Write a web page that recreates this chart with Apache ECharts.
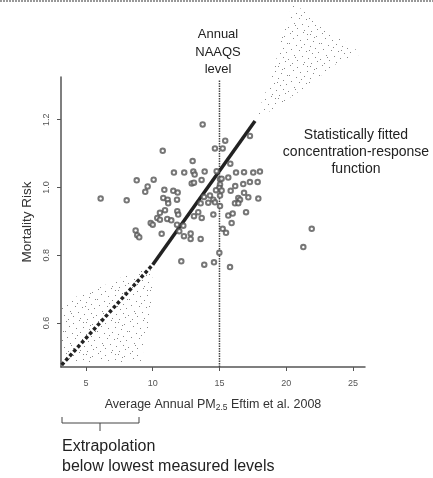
<!DOCTYPE html>
<html>
<head>
<meta charset="utf-8">
<script src="https://cdn.jsdelivr.net/npm/echarts@6/dist/echarts.min.js"></script>
<style>
html,body{margin:0;padding:0;background:#fff;}
#chart{width:433px;height:478px;}
</style>
</head>
<body>
<div id="chart"></div>
<script>
// ---- data ----
const pmX = [10.75,11.59,8.80,10.07,9.62,9.44,10.87,11.54,11.87,6.10,8.05,10.79,11.12,11.16,11.82,10.54,10.92,10.34,10.54,11.09,11.39,11.84,11.91,9.85,10.00,8.72,8.84,8.99,10.67,11.82,
  13.74,15.43,14.66,15.24,12.99,15.81,12.36,13.04,13.14,13.89,14.79,16.24,16.84,17.53,18.03,15.04,15.16,15.66,13.66,12.92,13.09,15.04,14.99,16.18,16.78,17.28,17.86,14.74,15.84,13.84,
  14.29,15.04,16.41,17.16,17.91,16.84,16.54,13.59,14.16,14.54,14.66,15.04,16.16,16.41,13.09,13.41,13.67,14.54,15.66,15.99,16.99,15.91,12.29,11.99,15.24,15.49,12.84,12.84,12.34,13.59,
  14.99,12.14,13.86,14.59,15.79,21.91,21.28,17.28,15.16];
const riskY = [1.108,1.044,1.021,1.023,1.003,0.987,0.993,0.990,0.985,0.967,0.962,0.969,0.964,0.953,0.964,0.925,0.933,0.910,0.905,0.907,0.903,0.930,0.920,0.895,0.890,0.873,0.859,0.853,0.863,0.890,
  1.186,1.138,1.115,1.115,1.078,1.070,1.044,1.047,1.038,1.047,1.048,1.044,1.045,1.044,1.047,1.024,1.026,1.029,1.022,1.012,1.014,1.009,0.999,1.004,1.010,1.016,1.016,0.992,0.990,0.972,
  0.976,0.976,0.969,0.971,0.967,0.984,0.964,0.953,0.955,0.964,0.956,0.945,0.953,0.953,0.915,0.927,0.910,0.920,0.917,0.923,0.927,0.895,0.887,0.871,0.878,0.866,0.864,0.848,0.856,0.848,
  0.807,0.782,0.772,0.779,0.765,0.878,0.824,1.152,0.991];

const fitX = [10.0, 17.66];          // fitted (measured range)
const fitY = [0.772, 1.196];
const extrapX = [3.18, 10.0];        // extrapolated
const extrapY = [0.476, 0.772];
const naaqsX = [15, 15];
const naaqsY = [0.47, 1.318];

const lowerBandX = [3.20, 5.67, 7.55, 9.79, 10.09, 9.79, 9.12, 3.20];
const lowerBandY = [0.662, 0.698, 0.733, 0.763, 0.713, 0.609, 0.484, 0.484];
const upperBandX = [17.58, 18.26, 19.01, 19.76, 20.51, 22.75, 25.67, 24.03, 21.55, 19.01];
const upperBandY = [1.196, 1.261, 1.341, 1.459, 1.545, 1.477, 1.394, 1.373, 1.299, 1.231];

const xTicks = [5, 10, 15, 20, 25];
const yTicks = [0.6, 0.8, 1.0, 1.2];

// ---- stipple texture (style only) ----
const stippleDots = [[2,1],[9,3],[15,0],[22,2],[28,4],[5,6],[12,8],[19,7],[25,9],[31,11],[1,11],[8,13],[16,12],[22,14],[27,16],
  [3,17],[11,18],[18,19],[24,21],[30,20],[6,23],[14,24],[20,26],[27,25],[0,27],[9,28],[16,30],[23,31],[29,29],[4,31],
  [13,15],[26,5],[19,2],[7,25],[21,18]];
const tile = document.createElement('canvas');
tile.width = 32; tile.height = 32;
const tctx = tile.getContext('2d');
tctx.fillStyle = '#888';
stippleDots.forEach(d => tctx.fillRect(d[0], d[1], 1, 1));
const stipple = { image: tile, repeat: 'repeat' };

const bands = [
  { x: lowerBandX, y: lowerBandY },
  { x: upperBandX, y: upperBandY }
];

const font = '"Liberation Sans", Arial, sans-serif';
const chart = echarts.init(document.getElementById('chart'));
chart.setOption({
  animation: false,
  backgroundColor: '#fff',
  grid: { left: 61, right: 68, top: 77, bottom: 111 },
  xAxis: {
    type: 'value', min: 3.13, max: 25.9,
    axisLine: { show: true, onZero: false, lineStyle: { color: '#555', width: 1.5 } },
    axisTick: { show: true, customValues: xTicks, length: 4, lineStyle: { color: '#555' } },
    axisLabel: { customValues: xTicks, color: '#555', fontSize: 9, fontFamily: font, margin: 12 },
    splitLine: { show: false },
    name: '{a|Average Annual PM}{s|2.5}{a| Eftim et al. 2008}',
    nameLocation: 'middle', nameGap: 30,
    nameTextStyle: {
      rich: {
        a: { fontSize: 12.5, color: '#333', fontFamily: font },
        s: { fontSize: 8.5, color: '#333', fontFamily: font, verticalAlign: 'bottom', padding: [6, 0, 0, 0] }
      }
    }
  },
  yAxis: {
    type: 'value', min: 0.47, max: 1.326,
    axisLine: { show: true, onZero: false, lineStyle: { color: '#555', width: 1.5 } },
    axisTick: { show: true, customValues: yTicks, length: 4, lineStyle: { color: '#555' } },
    axisLabel: { customValues: yTicks, color: '#555', fontSize: 9, fontFamily: font, rotate: 90, margin: 10,
      formatter: v => v.toFixed(1) },
    splitLine: { show: false },
    name: 'Mortality Risk', nameLocation: 'middle', nameGap: 27,
    nameTextStyle: { fontSize: 13.5, color: '#333', fontFamily: font }
  },
  series: [
    {
      type: 'custom', clip: false, z: 1, silent: true,
      data: bands.map((b, i) => [b.x[0], b.y[0], i]),
      renderItem: (params, api) => {
        const b = bands[params.dataIndex];
        const pts = b.x.map((x, i) => api.coord([x, b.y[i]]));
        return { type: 'polygon', shape: { points: pts }, style: { fill: stipple, stroke: null } };
      }
    },
    {
      type: 'line', z: 3, symbol: 'none',
      data: naaqsX.map((x, i) => [x, naaqsY[i]]),
      lineStyle: { color: '#444', width: 1.5, type: [1.5, 1] }
    },
    {
      type: 'line', z: 4, symbol: 'none',
      data: extrapX.map((x, i) => [x, extrapY[i]]),
      lineStyle: { color: '#222', width: 3.5, type: [3.5, 2.4] }
    },
    {
      type: 'line', z: 4, symbol: 'none',
      data: fitX.map((x, i) => [x, fitY[i]]),
      lineStyle: { color: '#222', width: 3.5 }
    },
    {
      type: 'scatter', z: 5, symbol: 'emptyCircle', symbolSize: 4.5,
      data: pmX.map((x, i) => [x, riskY[i]]),
      itemStyle: { color: '#555', borderColor: '#555', borderWidth: 0.8 }
    }
  ],
  graphic: [
    { type: 'line', shape: { x1: 0, y1: 1, x2: 433, y2: 1 }, style: { stroke: '#777', lineWidth: 1.5, lineDash: [2, 1] } },
    { type: 'text', x: 218, y: 26, style: { text: 'Annual\nNAAQS\nlevel', font: '13px ' + font, fill: '#222', align: 'center', verticalAlign: 'top', lineHeight: 17.5 } },
    { type: 'text', x: 356, y: 127, style: { text: 'Statistically fitted\nconcentration-response\nfunction', font: '14px ' + font, fill: '#222', align: 'center', verticalAlign: 'top', lineHeight: 17 } },
    { type: 'text', x: 62, y: 437, style: { text: 'Extrapolation\nbelow lowest measured levels', font: '16px ' + font, fill: '#222', verticalAlign: 'top', lineHeight: 20 } },
    { type: 'polyline', shape: { points: [[62, 417], [62, 423], [139, 423], [139, 417]] }, style: { stroke: '#444', lineWidth: 1, fill: null } },
    { type: 'line', shape: { x1: 100, y1: 423, x2: 100, y2: 431 }, style: { stroke: '#444', lineWidth: 1 } }
  ]
});
</script>
</body>
</html>
